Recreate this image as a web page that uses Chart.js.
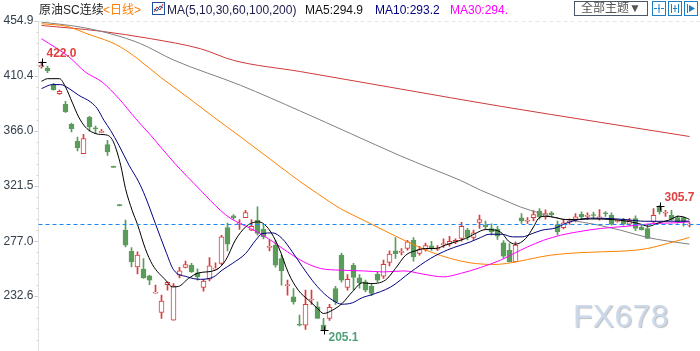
<!DOCTYPE html>
<html>
<head>
<meta charset="utf-8">
<script src="https://cdn.jsdelivr.net/npm/chart.js@4.4.0/dist/chart.umd.min.js"></script>
<style>
  body { margin: 0; background: #fff; }
  #wrap { position: relative; width: 700px; height: 351px; overflow: hidden; font-family: "Liberation Sans", "Noto Sans CJK SC", sans-serif; }
  #c { position: absolute; left: 0; top: 0; }
  .h { position: absolute; top: 3px; font-size: 12px; line-height: 14px; white-space: nowrap; }
  .btn { position: absolute; top: 1px; height: 13px; border: 1px solid #4a5868; font-size: 12px; line-height: 13px; color: #555; text-align: center; }
  .ico { position: absolute; top: 1px; width: 12px; height: 13px; border: 1px solid #1f7fc4; }
  #wm { position: absolute; left: 573px; top: 300px; font-size: 32px; line-height: 32px; color: #cbd9ea; text-shadow: 1px 1px 1px rgba(110,110,110,0.45); letter-spacing: 0.3px; }
</style>
</head>
<body>
<div id="wrap">
  <canvas id="c" width="700" height="351"></canvas>
  <div class="h" style="left:39px;color:#222">原油SC连续</div>
  <div class="h" style="left:103px;color:#ff7f00">&lt;日线&gt;</div>
  <svg style="position:absolute;left:152px;top:2px" width="13" height="13">
    <rect x="0.5" y="0.5" width="12" height="12" fill="#fff" stroke="#2050a0"/>
    <polyline points="2,10 5,5 8,8 11,2" fill="none" stroke="#d02020"/>
    <polyline points="2,7 5,9 8,4 11,6" fill="none" stroke="#2050a0"/>
  </svg>
  <div class="h" style="left:167px;color:#202050">MA(5,10,30,60,100,200)</div>
  <div class="h" style="left:305px;color:#111">MA5:294.9</div>
  <div class="h" style="left:375px;color:#000080">MA10:293.2</div>
  <div class="h" style="left:450px;color:#ff00ff">MA30:294.</div>
  <div class="btn" style="left:574px;width:72px">全部主题▼</div>
  <svg class="ico" style="left:652px" width="12" height="13"><path d="M6 2v3M6 8v3M1 6.5h3M8 6.5h3" stroke="#1f7fc4"/><rect x="5" y="5.5" width="2" height="2" fill="#1f7fc4"/></svg>
  <svg class="ico" style="left:668px" width="12" height="13"><path d="M2.5 2v9M9.5 2v9M6 3v7M4 6.5h4" stroke="#1f7fc4"/></svg>
  <svg class="ico" style="left:684px" width="12" height="13"><path d="M2.5 2v9" stroke="#1f7fc4"/><path d="M4 3l6 3.5L4 10z" fill="#1f7fc4"/></svg>
  <div id="wm">FX678</div>
</div>
<script>
// tick labels of the price axis
const yTickLabels = ['454.9', '410.4', '366.0', '321.5', '277.0', '232.6'];

// daily candles, oldest first
const opens = [418.0, 416.9, 403.5, 396.2, 387.6, 371.4, 357.7, 347.8, 377.1, 368.3,
  364.8, 355.0, 337.3, 306.5, 285.9, 268.9, 256.3, 254.4, 249.0, 235.0,
  219.4, 241.8, 213.2, 249.6, 255.8, 257.6, 251.4, 239.6, 246.3, 254.5,
  259.0, 288.1, 297.4, 290.8, 296.1, 285.9, 293.9, 286.6, 272.0, 273.8,
  263.0, 241.0, 232.0, 210.0, 209.2, 229.5, 224.0, 209.2, 214.6, 238.8,
  265.7, 239.6, 257.6, 247.4, 244.2, 240.7, 250.2, 248.7, 259.8, 269.2,
  268.0, 271.1, 277.8, 267.1, 270.3, 273.2, 270.5, 274.2, 274.6, 276.2,
  279.2, 285.9, 280.0, 292.1, 289.9, 287.3, 286.5, 275.7, 269.7, 260.3,
  295.8, 293.1, 296.1, 301.4, 296.6, 299.9, 290.5, 288.0, 292.3, 294.5,
  298.8, 297.0, 298.2, 295.8, 299.6, 298.0, 293.0, 294.5, 290.7, 295.3,
  288.5, 287.3, 292.6, 304.7, 299.6, 298.0, 296.1, 296.0, 290.0];
const highs = [422.0, 418.5, 404.5, 399.0, 390.0, 372.5, 361.2, 363.4, 377.9, 370.0,
  367.4, 358.5, 337.6, 306.7, 294.0, 271.9, 268.4, 263.0, 249.5, 241.5,
  233.4, 244.2, 242.8, 255.8, 260.9, 259.2, 254.6, 246.3, 263.8, 259.5,
  281.8, 291.7, 298.5, 294.5, 302.0, 294.5, 304.7, 290.6, 277.8, 277.8,
  265.7, 245.5, 238.8, 217.3, 237.5, 237.5, 228.0, 214.6, 226.1, 240.5,
  267.5, 250.0, 259.2, 250.0, 245.5, 243.0, 252.0, 261.7, 269.2, 279.9,
  271.0, 277.8, 280.0, 272.9, 275.5, 277.0, 273.5, 279.0, 281.0, 279.0,
  292.3, 287.5, 286.0, 298.2, 293.2, 291.0, 289.0, 277.5, 275.0, 276.5,
  299.4, 296.0, 301.8, 303.4, 302.3, 300.9, 293.2, 294.5, 295.0, 299.4,
  300.7, 300.0, 300.5, 302.6, 301.0, 299.9, 294.0, 295.5, 295.5, 297.5,
  290.0, 290.7, 303.4, 305.7, 302.0, 302.0, 297.5, 296.5, 292.0];
const lows = [416.8, 413.2, 399.0, 395.5, 381.0, 365.2, 349.9, 347.8, 365.8, 364.0,
  364.8, 346.4, 336.6, 305.6, 272.4, 256.3, 250.6, 246.9, 241.8, 235.0,
  214.6, 237.4, 213.2, 247.4, 255.5, 251.7, 245.5, 236.6, 245.0, 254.3,
  258.0, 269.2, 294.6, 286.5, 296.0, 285.5, 281.8, 278.9, 269.2, 256.0,
  241.5, 233.4, 226.1, 208.6, 205.7, 226.0, 214.6, 205.1, 213.0, 226.0,
  244.0, 237.5, 237.5, 239.0, 236.0, 233.0, 244.0, 247.0, 257.1, 263.0,
  266.0, 269.7, 260.9, 265.7, 269.0, 269.5, 269.5, 272.0, 273.0, 275.0,
  277.0, 278.0, 278.5, 287.3, 286.4, 282.0, 278.4, 263.5, 260.3, 260.3,
  291.3, 291.3, 293.4, 294.9, 294.9, 297.0, 282.0, 287.0, 290.5, 292.6,
  294.5, 294.5, 296.0, 294.0, 297.0, 289.9, 292.4, 290.0, 289.5, 285.6,
  286.0, 279.2, 292.0, 298.8, 297.0, 293.7, 291.5, 289.1, 288.5];
const closes = [418.6, 414.8, 399.5, 398.1, 381.4, 368.0, 352.6, 359.9, 369.3, 367.8,
  365.8, 349.1, 336.7, 305.8, 273.8, 260.3, 265.7, 247.4, 245.5, 235.6,
  228.6, 243.7, 241.0, 253.0, 258.2, 252.2, 248.2, 244.7, 257.1, 255.2,
  280.5, 274.6, 295.8, 291.5, 300.1, 289.1, 283.2, 280.5, 272.8, 257.7,
  253.0, 242.0, 228.0, 209.2, 226.1, 230.3, 214.6, 205.5, 223.5, 228.0,
  245.5, 246.1, 247.7, 243.3, 237.4, 234.8, 245.5, 258.4, 266.5, 267.0,
  268.6, 276.5, 264.4, 270.3, 273.5, 271.1, 271.6, 274.9, 277.0, 277.8,
  289.1, 280.0, 283.7, 294.5, 288.7, 284.5, 281.0, 264.9, 260.3, 273.8,
  293.4, 293.6, 298.6, 296.6, 299.4, 298.2, 284.5, 291.8, 292.8, 296.6,
  296.6, 297.4, 297.8, 296.4, 299.2, 290.7, 293.7, 290.7, 293.9, 287.3,
  286.4, 279.2, 298.0, 300.7, 300.2, 294.5, 292.6, 292.6, 290.5];

// moving averages: [candle index, value]
const ma5 = [[0,406.2],[1,408.3],[3,408.3],[4,401.6],[5.1,389.4],[6.2,377.3],[7.3,369.3],[8.4,365.2],[9.5,363.4],[11,362.6],
  [12,357.1],[13.2,338.3],[14,319.5],[15.1,302],[16,290.5],[17.3,271],[18.5,258],[20.7,245.5],[21.8,240.1],[22.8,240.4],
  [24.5,246.9],[26.2,251.4],[29,253.6],[30.7,261.7],[32.3,277.8],[34,288.5],[35.1,291.8],[36.2,292.6],[37.8,287.3],[39.5,272.4],
  [41.2,250.8],[42.8,237.4],[44.5,229.4],[46,222.7],[47,218.6],[48.5,221.3],[50.1,226.7],[51.8,236.1],[53.5,243.4],[54.8,242.8],
  [57.3,245.5],[59,255],[60.7,265.7],[62.3,269.2],[64,271.1],[65.7,271.1],[67.3,273.8],[69,276.5],[70.7,279.2],[72.3,283.2],
  [74,286.4],[75.7,285.9],[76.8,283.2],[77.8,277.2],[79,274.6],[80.7,279.2],[82,288.5],[82.8,295.3],[84,297.2],[85.7,296.1],
  [87.3,294.5],[89,294.5],[91.5,295],[95.1,294.5],[97.3,293.4],[99.5,291.3],[101.2,289.1],[102.8,291.8],[104.5,293.9],[106.2,297.2],
  [107.3,296.1],[108,294.6]];
const ma10 = [[0,400.3],[1.8,403.5],[3.2,403.5],[4.6,400.3],[6.2,394.9],[8.2,389.4],[9.3,384.1],[10.4,374.7],[11.5,366.6],[12.9,354.5],
  [14.6,338.3],[16.2,324.9],[17.3,313],[19,291],[20.7,269],[22,254],[24.3,248.2],[26.5,246.2],[28.7,248.2],[30.1,253.6],
  [31.8,259],[34,267],[35.7,277.8],[36.8,283.2],[38.5,283.7],[40.1,279.2],[41.8,268.4],[43.5,256.3],[45.1,245.5],[46.8,236.1],
  [48.5,229.4],[50.1,226.1],[51.8,227.2],[53.5,231.5],[54.8,233.4],[58.2,240],[61.5,252],[64.8,263],[67.7,270],[71.5,276.5],
  [73.2,280],[74.6,282.6],[76.8,282.6],[78.5,280.5],[80.1,280.5],[81.8,283.2],[83.4,285.9],[85.7,287.7],[87.3,291.3],[89,293.9],
  [91.5,295.6],[94.8,295.3],[97.3,294.5],[100.7,293.1],[104,293.1],[108,293.2]];
const ma30 = [[0,440.6],[4.6,425.8],[7.3,413.7],[10.1,405.6],[12.9,392.2],[15.7,376],[18.2,362.6],[22,341],[26.5,318.2],[29.8,302],
  [31.5,295.5],[33.2,291],[34.8,287.5],[38.2,277.8],[41,268.4],[43.7,260.3],[46.5,255],[49.8,253.6],[53.7,253],[57,252.2],
  [60.4,253],[63.7,250.3],[67,248.2],[69.8,250.9],[73.2,255.8],[76.5,261.7],[78.7,267],[81,272.4],[83.7,277.8],[86.5,281.8],
  [89.3,284.5],[93.2,287.3],[97.6,289.1],[102,291.3],[105.4,291.8],[108,292.6]];
const ma60 = [[0,452.7],[4.3,450.5],[7.6,444.6],[11.5,437.9],[13.2,433.8],[16,424.5],[19.8,409.6],[24.3,393.5],[28.7,377.3],[33.2,361.2],
  [38.2,343],[42.8,326.2],[46,315.5],[49.8,303.4],[53.7,293.9],[57,285.9],[61,276.5],[64.8,268.4],[68.2,263],[71.5,259.5],
  [75.4,258.2],[78.2,259.5],[81,262.2],[84.8,265.7],[89.3,267.6],[93.2,268.4],[97.6,269.2],[101,271.1],[104.3,275.1],[108,280]];
const ma100 = [[0,454],[6.5,450],[11.5,444.6],[16.5,436.6],[22,423.4],[33.2,402.9],[43.2,382],[51.5,364],[59.8,346],[64.8,336],
  [69.8,326.2],[73.2,318.2],[76.5,311.5],[79.8,304.7],[83.2,299.4],[85.4,296.1],[88.2,293.9],[92.1,290.7],[96.5,285.9],[101,280],
  [104.3,277.2],[108,274.6]];
const ma200 = [[0,451.3],[9.8,446.7],[18.2,440.6],[26.5,432.5],[32,423.1],[43.2,414],[59.8,400],[76.5,386],[93.2,373],[108,361.6]];

// marked extremes: [candle index, 'high' | 'low']
const marks = [[0, 'high'], [47, 'low'], [103, 'high']];

const UP = '#dd3b3b', DOWN = '#5a9c5a';
const isUp = i => closes[i] >= opens[i];

const maLine = (pts, color) => ({
  type: 'line',
  data: pts.map(p => ({ x: p[0], y: p[1] })),
  borderColor: color,
  borderWidth: 1,
  pointRadius: 0,
  cubicInterpolationMode: 'monotone',
  fill: false
});

const majorVals = yTickLabels.map(Number);
const step = majorVals[0] - majorVals[1];

const extras = {
  id: 'extras',
  afterDatasetsDraw(chart) {
    const { ctx, chartArea: a, scales: { x, y } } = chart;
    ctx.save();
    // top separator
    ctx.strokeStyle = '#e8e8e8';
    ctx.setLineDash([4, 3]);
    ctx.beginPath(); ctx.moveTo(a.left, 21.5); ctx.lineTo(700, 21.5); ctx.stroke();
    // last price line
    const py = Math.round(y.getPixelForValue(closes[closes.length - 1])) + 0.5;
    ctx.strokeStyle = '#1e88f0';
    ctx.beginPath(); ctx.moveTo(a.left, py); ctx.lineTo(700, py); ctx.stroke();
    ctx.setLineDash([]);
    // minor ticks
    ctx.strokeStyle = '#d4d4d4';
    for (let v = majorVals[0]; v > y.min; v -= step / 5) {
      const ty = Math.round(y.getPixelForValue(v)) + 0.5;
      ctx.beginPath(); ctx.moveTo(a.left - 2, ty); ctx.lineTo(a.left, ty); ctx.stroke();
    }
    // extremes
    ctx.font = 'bold 12px "Liberation Sans", sans-serif';
    ctx.textBaseline = 'middle';
    marks.forEach(([i, kind]) => {
      const mx = Math.round(x.getPixelForValue(i)) + 0.5;
      const v = kind === 'high' ? highs[i] : lows[i];
      const my = Math.round(y.getPixelForValue(v)) + 0.5;
      ctx.strokeStyle = '#000';
      ctx.beginPath();
      ctx.moveTo(mx - 4, my); ctx.lineTo(mx + 4, my);
      ctx.moveTo(mx, my - 4); ctx.lineTo(mx, my + 4);
      ctx.stroke();
      ctx.fillStyle = kind === 'high' ? '#e04040' : '#52a07a';
      ctx.fillText(v.toFixed(1), mx + 4, kind === 'high' ? my - 9 : my + 7);
    });
    ctx.restore();
  }
};

new Chart(document.getElementById('c'), {
  type: 'bar',
  data: {
    datasets: [
      maLine(ma5, '#000000'),
      maLine(ma10, '#000080'),
      maLine(ma30, '#ff00ff'),
      maLine(ma60, '#ff8000'),
      maLine(ma100, '#808080'),
      maLine(ma200, '#d03a3a'),
      {
        data: opens.map((o, i) => ({ x: i, y: [o, closes[i]] })),
        backgroundColor: c => isUp(c.dataIndex) ? '#ffffff' : DOWN,
        borderColor: c => isUp(c.dataIndex) ? UP : DOWN,
        borderWidth: 1,
        borderSkipped: false,
        barThickness: 5,
        minBarLength: 1,
        grouped: false
      },
      {
        data: lows.map((l, i) => ({ x: i, y: [l, highs[i]] })),
        backgroundColor: c => isUp(c.dataIndex) ? UP : DOWN,
        borderWidth: 0,
        barThickness: 1,
        grouped: false
      }
    ]
  },
  options: {
    responsive: false,
    animation: false,
    devicePixelRatio: 1,
    layout: { padding: { top: 21, right: 7.5, bottom: 0, left: 0 } },
    plugins: { legend: { display: false }, tooltip: { enabled: false } },
    scales: {
      x: { type: 'linear', offset: false, min: -0.5, max: closes.length - 0.5, display: false, grid: { offset: false } },
      y: {
        min: 188.3,
        max: majorVals[0],
        afterFit: s => { s.width = 38.5; s.paddingTop = 0; s.paddingBottom = 0; },
        afterBuildTicks: s => { s.ticks = majorVals.map(v => ({ value: v })); },
        ticks: {
          callback: (v, i) => yTickLabels[i],
          color: '#34404c',
          font: { family: '"Liberation Sans", sans-serif', size: 12 },
          padding: 1
        },
        grid: { drawOnChartArea: false, tickLength: 4, color: '#b8c4d0' },
        border: { color: '#e2e2e2' }
      }
    }
  },
  plugins: [extras]
});
</script>
</body>
</html>
